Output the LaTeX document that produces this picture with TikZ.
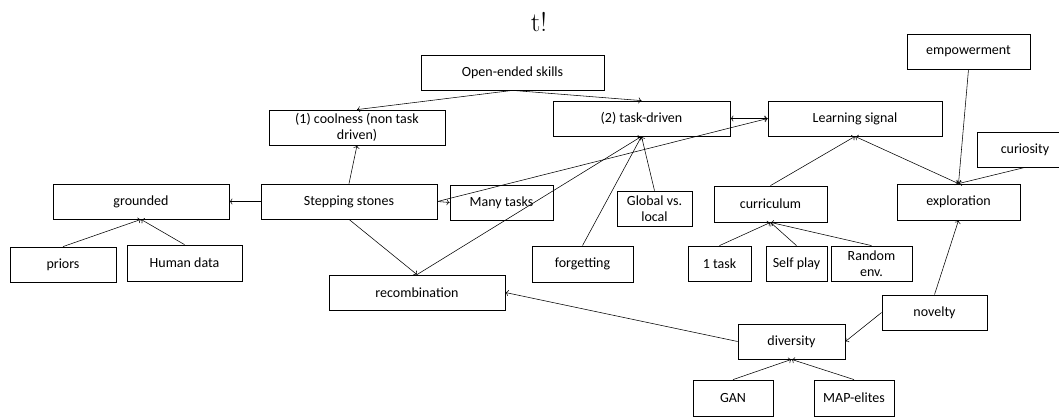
\documentclass[tikz,border=0pt]{standalone}
\usepackage{fontspec}
\usepackage{tikz}
\usetikzlibrary{arrows.meta, positioning}
\newfontfamily\boxfont{Carlito}

\begin{document}
\begin{tikzpicture}[
    x=1pt, y=-1pt,
    box/.style={rectangle, draw, line width=0.8pt, align=center, inner sep=1pt, minimum height=35pt, font=\boxfont\fontsize{14}{16}\selectfont},
    line/.style={draw, line width=0.55pt, -{To[length=3pt, width=6pt]}},
    dline/.style={draw, line width=0.55pt, {To[length=3pt, width=6pt]}-{To[length=3pt, width=6pt]}}
]
\useasboundingbox (0,0) rectangle (1059,417);

% Nodes
\node (title) at (539,22) {\fontsize{27}{30}\selectfont t!};
\node[box, minimum width=183pt] (open) at (512.5,72.5) {Open-ended skills};
\node[box, minimum width=176pt] (cool) at (357,127.5) {(1) coolness (non task\\driven)};
\node[box, minimum width=177pt] (task) at (641.5,118.5) {(2) task-driven};
\node[box, minimum width=174pt] (learn) at (855,118.5) {Learning signal};
\node[box, minimum width=123pt] (empow) at (968.5,51.5) {empowerment};
\node[box, minimum width=96pt] (curio) at (1025,149.5) {curiosity};
\node[box, minimum width=176pt] (ground) at (141,201.5) {grounded};
\node[box, minimum width=176pt] (step) at (349,201.5) {Stepping stones};
\node[box, minimum width=103pt] (many) at (501.5,202.5) {Many tasks};
\node[box, minimum width=75pt] (global) at (654.5,208.5) {Global vs.\\local};
\node[box, minimum width=113pt, minimum height=36pt] (curric) at (770.5,204) {curriculum};
\node[box, minimum width=123pt, minimum height=36pt] (explor) at (958.5,202) {exploration};
\node[box, minimum width=106pt] (priors) at (63,264.5) {priors};
\node[box, minimum width=115pt, minimum height=36pt] (human) at (184.5,263) {Human data};
\node[box, minimum width=176pt] (recomb) at (417,292.5) {recombination};
\node[box, minimum width=101pt, minimum height=36pt] (forget) at (582.5,264) {forgetting};
\node[box, minimum width=63pt] (onetask) at (719.5,263.5) {1 task};
\node[box, minimum width=61pt] (selfplay) at (796.5,263.5) {Self play};
\node[box, minimum width=81pt] (randenv) at (871.5,263.5) {Random\\env.};
\node[box, minimum width=105pt] (novelty) at (934.5,312.5) {novelty};
\node[box, minimum width=107pt] (divers) at (791.5,341.5) {diversity};
\node[box, minimum width=80pt, minimum height=36pt] (gan) at (733,398) {GAN};
\node[box, minimum width=80pt, minimum height=36pt] (mapel) at (854,398) {MAP-elites};

% Draw arrows
\draw[line] (open.south) -- (cool.north);
\draw[line] (open.south) -- (task.north);
\draw[dline] (task.east) -- (learn.west);
\draw[line] (step.north) -- (cool.south);
\draw[line] (step.west) -- (ground.east);
\draw[line] (step.east) -- (many.west);
\draw[line] (step.east) -- (learn.west);
\draw[line] (step.south) -- (recomb.north);
\draw[line] (priors.north) -- (ground.south);
\draw[line] (human.north) -- (ground.south);
\draw[line] (curric.north) -- (learn.south);
\draw[dline] (learn.south) -- (explor.north);
\draw[line] (empow.south) -- (explor.north);
\draw[line] (curio.south) -- (explor.north);
\draw[line] (novelty.north) -- (explor.south);
\draw[line] (novelty.west) -- (divers.east);
\draw[line] (divers.west) -- (recomb.east);

% Into task-driven
\foreach \src in {recomb, forget, global}
    \draw[line] (\src.north) -- (task.south);

% Into curriculum and diversity
\foreach \src in {onetask, selfplay, randenv}
    \draw[line] (\src.north) -- (curric.south);
\foreach \src in {gan, mapel}
    \draw[line] (\src.north) -- (divers.south);

\end{tikzpicture}
\end{document}
